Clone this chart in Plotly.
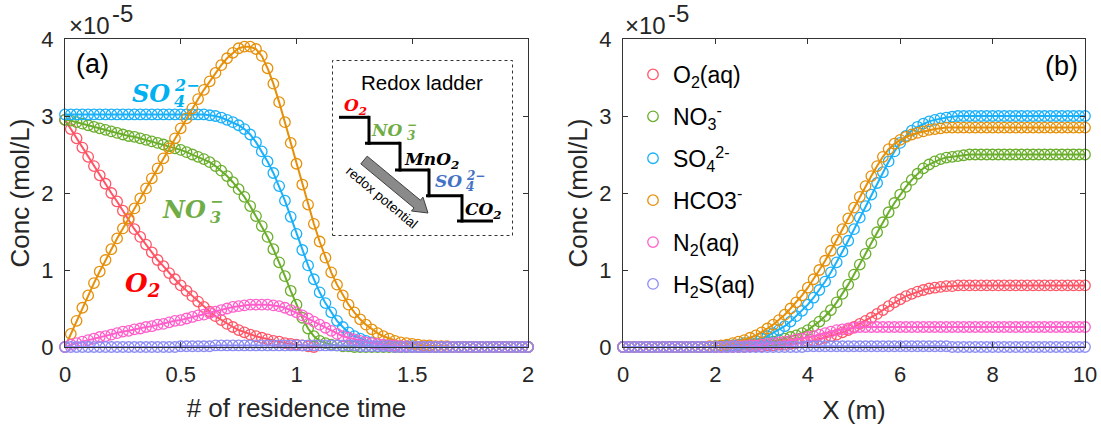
import numpy as np
import plotly.graph_objects as go

# ---------------- data (concentrations in units of 1e-5 mol/L) ----------------
x_a = np.round(np.arange(81) * 0.025, 3)   # residence time grid (panel a)
x_b = np.round(np.arange(81) * 0.125, 3)   # distance grid (panel b)

o2_a = [2.95, 2.83, 2.71, 2.59, 2.47, 2.35, 2.23, 2.12, 2.00, 1.89, 1.77, 1.65, 1.53, 1.43, 1.33, 1.23,
        1.13, 1.05, 0.96, 0.88, 0.80, 0.73, 0.66, 0.59, 0.52, 0.46, 0.40, 0.35, 0.30, 0.26, 0.22, 0.19,
        0.16, 0.14, 0.12, 0.10, 0.08, 0.07, 0.05, 0.04, 0.03, 0.02, 0.01, 0.0, -0.01, -0.02, -0.02, -0.03,
        -0.03, -0.03, -0.03, -0.02, -0.02, -0.02, -0.01, -0.01, -0.01] + [0.0] * 24
no3_a = [2.95, 2.94, 2.92, 2.90, 2.88, 2.86, 2.84, 2.82, 2.80, 2.78, 2.76, 2.74, 2.73, 2.71, 2.69, 2.67,
         2.65, 2.63, 2.61, 2.58, 2.56, 2.53, 2.50, 2.47, 2.44, 2.40, 2.35, 2.29, 2.22, 2.14, 2.05, 1.95,
         1.83, 1.70, 1.57, 1.43, 1.27, 1.10, 0.92, 0.73, 0.55, 0.38, 0.24, 0.14, 0.08, 0.05, 0.03, 0.02,
         0.01, 0.01] + [0.0] * 31
so4_a = [3.02] * 25 + [3.01, 3.00, 2.98, 2.95, 2.92, 2.88, 2.83, 2.76, 2.66, 2.54, 2.41, 2.26, 2.09, 1.90,
                       1.69, 1.47, 1.26, 1.06, 0.88, 0.71, 0.57, 0.45, 0.34, 0.26, 0.19, 0.14, 0.11, 0.08,
                       0.06, 0.04, 0.03, 0.02, 0.02, 0.01, 0.01, 0.01] + [0.0] * 20
hco3_a = [0.00, 0.17, 0.34, 0.51, 0.67, 0.83, 0.98, 1.13, 1.27, 1.41, 1.54, 1.67, 1.80, 1.93, 2.06, 2.19,
          2.32, 2.45, 2.58, 2.71, 2.84, 2.97, 3.10, 3.22, 3.34, 3.45, 3.56, 3.66, 3.75, 3.82, 3.88, 3.90,
          3.90, 3.87, 3.78, 3.62, 3.42, 3.18, 2.92, 2.65, 2.38, 2.11, 1.85, 1.60, 1.37, 1.16, 0.97, 0.81,
          0.67, 0.55, 0.45, 0.36, 0.29, 0.23, 0.18, 0.14, 0.11, 0.08, 0.06, 0.05, 0.04, 0.03, 0.02, 0.02,
          0.01, 0.01, 0.01] + [0.0] * 14
n2_a = [0.00, 0.03, 0.05, 0.07, 0.09, 0.11, 0.13, 0.14, 0.16, 0.18, 0.20, 0.21, 0.23, 0.24, 0.26, 0.27,
        0.29, 0.30, 0.32, 0.34, 0.35, 0.37, 0.39, 0.41, 0.42, 0.44, 0.46, 0.48, 0.50, 0.52, 0.53, 0.54,
        0.55, 0.55, 0.55, 0.55, 0.54, 0.53, 0.51, 0.48, 0.45, 0.41, 0.37, 0.33, 0.29, 0.25, 0.21, 0.17,
        0.14, 0.12, 0.10, 0.08, 0.06, 0.05, 0.04, 0.03, 0.02, 0.02, 0.01, 0.01] + [0.0] * 21
h2s_a = [0.0] * 20 + [0.01] * 6 + [0.02] * 25 + [0.01] * 6 + [0.0] * 24

o2_b = [0.0] * 21 + [0.00, 0.01, 0.01, 0.01, 0.02, 0.02, 0.03, 0.03, 0.04, 0.05, 0.06, 0.07, 0.08, 0.10,
                     0.12, 0.14, 0.16, 0.19, 0.22, 0.26, 0.30, 0.34, 0.38, 0.43, 0.48, 0.53, 0.58, 0.62,
                     0.66, 0.69, 0.72, 0.74, 0.76, 0.77, 0.78, 0.79, 0.79, 0.80] + [0.80] * 22
no3_b = [0.0] * 17 + [0.01, 0.01, 0.02, 0.02, 0.03, 0.03, 0.04, 0.05, 0.06, 0.07, 0.09, 0.11, 0.13, 0.15,
                      0.18, 0.22, 0.27, 0.33, 0.40, 0.48, 0.58, 0.69, 0.81, 0.94, 1.07, 1.21, 1.35, 1.49,
                      1.62, 1.75, 1.87, 1.98, 2.08, 2.17, 2.25, 2.32, 2.37, 2.41, 2.44, 2.46, 2.47, 2.48,
                      2.49, 2.50] + [2.50] * 20
so4_b = [0.0] * 16 + [0.01, 0.01, 0.02, 0.02, 0.03, 0.05, 0.06, 0.08, 0.11, 0.14, 0.18, 0.22, 0.27, 0.33,
                      0.40, 0.47, 0.55, 0.64, 0.74, 0.85, 0.97, 1.10, 1.24, 1.38, 1.53, 1.68, 1.83, 1.98,
                      2.13, 2.27, 2.41, 2.54, 2.65, 2.74, 2.81, 2.86, 2.90, 2.93, 2.95, 2.97, 2.98, 2.99,
                      3.00] + [3.00] * 22
hco3_b = [0.0] * 15 + [0.01, 0.01, 0.02, 0.03, 0.05, 0.07, 0.09, 0.12, 0.15, 0.19, 0.24, 0.29, 0.35, 0.42,
                       0.50, 0.58, 0.67, 0.77, 0.88, 1.00, 1.12, 1.25, 1.39, 1.53, 1.67, 1.81, 1.95, 2.09,
                       2.22, 2.35, 2.47, 2.57, 2.64, 2.69, 2.73, 2.76, 2.78, 2.80, 2.82, 2.83, 2.84,
                       2.85] + [2.85] * 24
n2_b = [0.0] * 19 + [0.01, 0.01, 0.01, 0.02, 0.02, 0.03, 0.04, 0.05, 0.06, 0.07, 0.08, 0.10, 0.11, 0.13,
                     0.14, 0.16, 0.18, 0.20, 0.22, 0.23, 0.24, 0.25, 0.26, 0.26] + [0.26] * 38
h2s_b = [0.0] * 32 + [0.01] * 25 + [0.0] * 24

species = ["O<sub>2</sub>(aq)", "NO<sub>3</sub><sup>-</sup>", "SO<sub>4</sub><sup>2-</sup>",
           "HCO3<sup>-</sup>", "N<sub>2</sub>(aq)", "H<sub>2</sub>S(aq)"]
series_a = [o2_a, no3_a, so4_a, hco3_a, n2_a, h2s_a]
series_b = [o2_b, no3_b, so4_b, hco3_b, n2_b, h2s_b]
colors = ["#FF5566", "#6AAE2C", "#1AB0FA", "#E6900A", "#FF5ECB", "#8C8CF5"]

xticks_a = [0, 0.5, 1, 1.5, 2]
xticklabels_a = ["0", "0.5", "1", "1.5", "2"]
xticks_b = [0, 2, 4, 6, 8, 10]
yticks = [0, 1, 2, 3, 4]

# ---------------- layout helpers ----------------
W, H = 1101, 425
L, R, T, B = 65, 16, 39, 78
PW, PH = W - L - R, H - T - B


def px(xp):
    return (xp - L) / PW


def py(yp):
    return (H - B - yp) / PH


SANS = "Liberation Sans, Arial, sans-serif"
SERIF = "DejaVu Serif, serif"
AX = "#333333"

fig = go.Figure()

for i, (name, col) in enumerate(zip(species, colors)):
    for ser, xs, xa, ya, leg in ((series_a, x_a, "x", "y", False), (series_b, x_b, "x2", "y2", True)):
        fig.add_trace(go.Scatter(x=xs, y=ser[i], mode="lines", line=dict(color=col, width=2),
                                 xaxis=xa, yaxis=ya, showlegend=False, hoverinfo="skip"))
        fig.add_trace(go.Scatter(x=xs, y=ser[i], mode="markers", name=name, legendgroup=str(i),
                                 marker=dict(symbol="circle-open", size=10.5, color=col,
                                             line=dict(width=1.3)),
                                 xaxis=xa, yaxis=ya, showlegend=leg, cliponaxis=False))

axis_common = dict(showline=True, linecolor=AX, linewidth=1, mirror="ticks", ticks="inside",
                   ticklen=5, tickwidth=1, tickcolor=AX, showgrid=False, zeroline=False,
                   tickfont=dict(family=SANS, size=22, color="#262626"))
title_font = dict(family=SANS, size=26, color="#262626")

fig.update_layout(
    width=W, height=H, margin=dict(l=L, r=R, t=T, b=B, autoexpand=False),
    paper_bgcolor="white", plot_bgcolor="white",
    xaxis=dict(domain=[0, 463 / PW], range=[0, 2], tickvals=xticks_a, ticktext=xticklabels_a,
               title=dict(text="# of residence time", font=title_font, standoff=12),
               ticklabelstandoff=8, anchor="y", **axis_common),
    yaxis=dict(domain=[0, 1], range=[0, 4], tickvals=yticks, anchor="x",
               title=dict(text="Conc (mol/L)", font=title_font, standoff=4),
               ticklabelstandoff=6, **axis_common),
    xaxis2=dict(domain=[558 / PW, 1], range=[0, 10], tickvals=xticks_b,
                title=dict(text="X (m)", font=title_font, standoff=14),
                ticklabelstandoff=8, anchor="y2", **axis_common),
    yaxis2=dict(domain=[0, 1], range=[0, 4], tickvals=yticks, anchor="x2",
                title=dict(text="Conc (mol/L)", font=title_font, standoff=4),
                ticklabelstandoff=6, **axis_common),
    legend=dict(x=px(633), y=py(53), xanchor="left", yanchor="top", bgcolor="rgba(0,0,0,0)",
                font=dict(family=SANS, size=23, color="black"), tracegroupgap=9,
                itemclick=False),
    showlegend=True,
)

annotations = []


def ann(text, xp, yp, size, color="black", family=SANS, xanchor="center", yanchor="middle", angle=0):
    annotations.append(dict(text=text, x=px(xp), y=py(yp), xref="paper", yref="paper",
                            xanchor=xanchor, yanchor=yanchor, showarrow=False, textangle=angle,
                            font=dict(family=family, size=size, color=color)))


def stacked(base, sub, sup, xsplit, ycap, size, color):
    ann("<b><i>%s</i></b>" % base, xsplit, ycap, size, color, SERIF, xanchor="right")
    s2 = round(size * 0.68)
    ann("<b><i>%s</i></b>" % sup, xsplit, ycap - size * 0.30, s2, color, SERIF, xanchor="left")
    ann("<b><i>%s</i></b>" % sub, xsplit, ycap + size * 0.36, s2, color, SERIF, xanchor="left")


# exponent labels
for x0 in (67, 623):
    ann("\u00d710", x0, 25, 24, "#262626", xanchor="left")
    ann("-5", x0 + 43, 14, 24, "#262626", xanchor="left")

ann("(a)", 92, 64, 27)
ann("(b)", 1061, 66, 27)

# in-plot species labels (panel a)
stacked("SO", "4", "2\u2212", 172, 93, 24, "#00B0F0")
stacked("NO", "3", "\u2212", 208, 209, 24, "#70AD47")
ann("<b><i>O<sub>2</sub></i></b>", 142, 284, 26, "#FF0000", SERIF)

# inset
ann("Redox ladder", 422, 82, 20.5)
ann("<b><i>O<sub>2</sub></i></b>", 355, 107, 17, "#FF0000", SERIF)
stacked("NO", "3", "\u2212", 405, 130, 17, "#70AD47")
ann("<b><i>MnO<sub>2</sub></i></b>", 431, 160, 17, "black", SERIF)
stacked("SO", "4", "2\u2212", 464, 181, 17, "#4472C4")
ann("<b><i>CO<sub>2</sub></i></b>", 483, 210, 17, "black", SERIF)
ann("redox potential", 382, 197, 13.5, "black", SANS, angle=40)

shapes = []
shapes.append(dict(type="rect", xref="paper", yref="paper", x0=px(332.5), x1=px(512.5),
                   y0=py(235.5), y1=py(60.5), line=dict(color="#333333", width=1, dash="dot")))
steps_h = [(339, 369, 117.3), (365, 400, 143.3), (395, 429, 170), (426, 462, 195.7), (457, 493, 221)]
steps_v = [(369, 117.3, 143.3), (400, 143.3, 170), (429, 170, 195.7), (462, 195.7, 221)]
for a, b, yv in steps_h:
    shapes.append(dict(type="line", xref="paper", yref="paper", x0=px(a), x1=px(b), y0=py(yv), y1=py(yv),
                       line=dict(color="black", width=3)))
for xv, a, b in steps_v:
    shapes.append(dict(type="line", xref="paper", yref="paper", x0=px(xv), x1=px(xv), y0=py(a - 1.5),
                       y1=py(b + 1.5), line=dict(color="black", width=3)))

# block arrow
p0 = np.array([364.0, 160.0])
p1 = np.array([428.0, 213.0])
d = p1 - p0
u = d / np.linalg.norm(d)
n = np.array([-u[1], u[0]])
hw, hh, hl = 5.0, 9.0, 14.0
base = p1 - u * hl
pts = [p0 + n * hw, base + n * hw, base + n * hh, p1, base - n * hh, base - n * hw, p0 - n * hw]
path = "M " + " L ".join("%.5f,%.5f" % (px(q[0]), py(q[1])) for q in pts) + " Z"
shapes.append(dict(type="path", xref="paper", yref="paper", path=path, fillcolor="#8a8a8a",
                   line=dict(color="#404040", width=1)))

fig.update_layout(annotations=annotations, shapes=shapes)
fig.write_html("out.html", config={"displayModeBar": False},
               post_script="document.body.style.margin='0px';")
